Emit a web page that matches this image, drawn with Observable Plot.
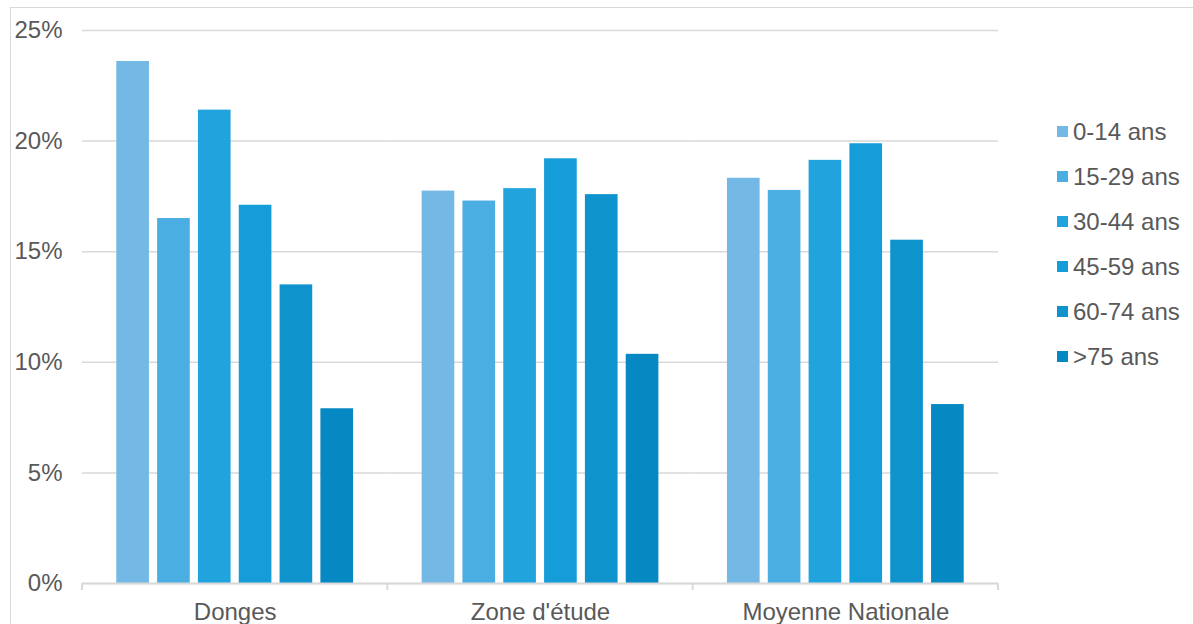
<!DOCTYPE html>
<html>
<head>
<meta charset="utf-8">
<script src="https://cdn.jsdelivr.net/npm/d3@7"></script>
<script src="https://cdn.jsdelivr.net/npm/@observablehq/plot@0.6"></script>
<style>
  body { margin: 0; background: #fff; font-family: "Liberation Sans", Arial, sans-serif; }
  #wrap { position: relative; width: 1193px; height: 624px; overflow: hidden; }
  #border { position: absolute; left: 10px; top: 7px; right: 0; bottom: 0;
            border-left: 1.5px solid #d9d9d9; border-top: 1.5px solid #d9d9d9; pointer-events: none; }
  #chart { position: absolute; left: 0; top: 0; }
  #legend { position: absolute; left: 1057px; top: 109px; color: #595959; font-size: 24px; }
  .item { display: flex; align-items: center; height: 45px; }
  .swatch { width: 11px; height: 11px; margin-right: 5px; }
</style>
</head>
<body>
<div id="wrap">
  <div id="border"></div>
  <div id="chart"></div>
  <div id="legend"></div>
</div>
<script>
// Population share by age group (%)
const categories = ["Donges", "Zone d'étude", "Moyenne Nationale"];
const ageGroups = ["0-14 ans", "15-29 ans", "30-44 ans", "45-59 ans", "60-74 ans", ">75 ans"];
const donges   = [23.6, 16.5, 21.4, 17.1, 13.5, 7.9];
const zone     = [17.74, 17.29, 17.85, 19.2, 17.58, 10.36];
const moyenne  = [18.32, 17.77, 19.13, 19.88, 15.52, 8.09];
const ageColors = ["#74b9e6", "#4aaee2", "#21a4de", "#149dd8", "#0e93cc", "#0689c2"];
const yTicks = [0, 5, 10, 15, 20, 25];

const series = [donges, zone, moyenne];
const rows = categories.flatMap((c, i) =>
  ageGroups.map((a, j) => ({category: c, age: a, value: series[i][j]}))
);

const plot = Plot.plot({
  width: 1193,
  height: 624,
  marginLeft: 82,
  marginRight: 195,
  marginTop: 30,
  marginBottom: 41,
  style: {fontFamily: "'Liberation Sans', Arial, sans-serif", fontSize: "24px", color: "#595959", background: "transparent"},
  fx: {domain: categories, padding: 0, round: false, label: null},
  x: {domain: ageGroups, paddingInner: 0.2, paddingOuter: 0.84, round: false, axis: null},
  y: {domain: [0, 25], label: null},
  color: {domain: ageGroups, range: ageColors},
  marks: [
    Plot.gridY(yTicks, {stroke: "#d9d9d9", strokeOpacity: 1, strokeWidth: 1.5}),
    Plot.axisY(yTicks, {tickSize: 0, tickPadding: 20, tickFormat: d => d + "%", fontSize: 24, label: null}),
    Plot.barY(rows, {fx: "category", x: "age", y: "value", fill: "age"}),
    Plot.ruleY([0], {stroke: "#d9d9d9", strokeWidth: 2}),
    Plot.axisFx({anchor: "bottom", tickSize: 0, tickPadding: 19, fontSize: 24, label: null})
  ]
});
document.getElementById("chart").appendChild(plot);

// Category boundary ticks under the baseline
const fx = plot.scale("fx");
const y = plot.scale("y");
if (fx && fx.apply && y && y.apply) {
  const y0 = y.apply(0);
  const bounds = categories.map(c => fx.apply(c));
  bounds.push(fx.apply(categories[categories.length - 1]) + fx.bandwidth);
  d3.select(plot).append("g")
    .selectAll("line")
    .data(bounds)
    .join("line")
    .attr("x1", d => d).attr("x2", d => d)
    .attr("y1", y0).attr("y2", y0 + 7)
    .attr("stroke", "#d9d9d9").attr("stroke-width", 2);
}

// Legend
const legend = d3.select("#legend");
ageGroups.forEach((a, i) => {
  const item = legend.append("div").attr("class", "item");
  item.append("div").attr("class", "swatch").style("background", ageColors[i]);
  item.append("span").text(a);
});
</script>
</body>
</html>
